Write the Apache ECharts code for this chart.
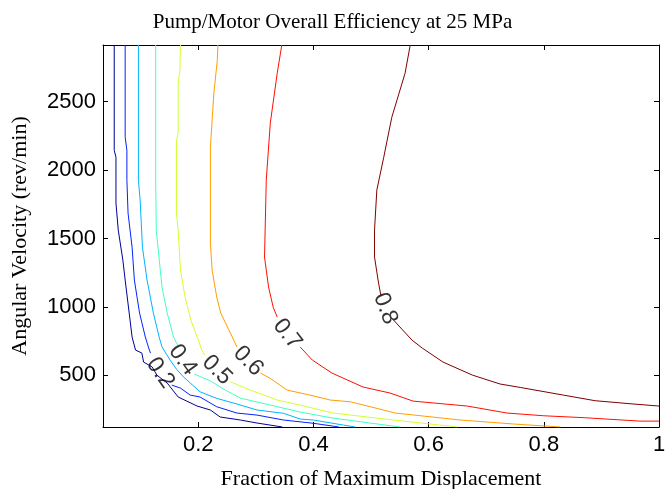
<!DOCTYPE html>
<html>
<head>
<meta charset="utf-8">
<script src="https://cdn.jsdelivr.net/npm/echarts@6/dist/echarts.min.js"></script>
<style>
  html, body { margin: 0; padding: 0; background: #fff; }
  #chart { width: 665px; height: 489px; }
</style>
</head>
<body>
<div id="chart"></div>
<script>
// axis ranges and ticks
const xMin = 0.0345, xMax = 1;
const yMin = 123, yMax = 2913;
const xTicks = [0.2, 0.4, 0.6, 0.8, 1];
const yTicks = [500, 1000, 1500, 2000, 2500];

// contour levels, each line split where matlab put its label
const levels = ['0.1', '0.2', '0.3', '0.4', '0.5', '0.6', '0.7', '0.8'];

const c01 = [
  [[0.054, 2913], [0.054, 2144], [0.057, 2093], [0.057, 1758], [0.061, 1561], [0.069, 1342], [0.073, 1196],
   [0.080, 955], [0.085, 780], [0.091, 685], [0.102, 663], [0.105, 597], [0.120, 561], [0.128, 502],
   [0.146, 444], [0.165, 342], [0.198, 276], [0.221, 247], [0.238, 196], [0.273, 174], [0.302, 152], [0.346, 123]]
];
const c02 = [
  [[0.073, 2913], [0.073, 2240], [0.076, 2144], [0.076, 1925], [0.078, 1685], [0.085, 1436], [0.089, 1196],
   [0.098, 955], [0.108, 780], [0.115, 685], [0.117, 663]],
  [[0.154, 429], [0.169, 407], [0.186, 356], [0.203, 342], [0.232, 271], [0.267, 225], [0.302, 210],
   [0.348, 174], [0.400, 150], [0.441, 125], [0.444, 123]]
];
const c03 = [
  [[0.096, 2913], [0.096, 1925], [0.099, 1780], [0.103, 1436], [0.111, 1196], [0.122, 955], [0.132, 780],
   [0.137, 707], [0.151, 612], [0.162, 546], [0.174, 490], [0.203, 380], [0.232, 332], [0.267, 291],
   [0.302, 247], [0.348, 223], [0.377, 181], [0.400, 174], [0.452, 137], [0.473, 123]]
];
const c04 = [
  [[0.126, 2913], [0.126, 1925], [0.127, 1561], [0.131, 1393], [0.137, 1145], [0.146, 955], [0.157, 780],
   [0.164, 722]],
  [[0.193, 510], [0.221, 459], [0.247, 393], [0.273, 334], [0.325, 283], [0.377, 232], [0.434, 188],
   [0.498, 152], [0.551, 123]]
];
const c05 = [
  [[0.169, 2913], [0.168, 2728], [0.165, 2634], [0.165, 2269], [0.162, 2217], [0.162, 1685], [0.165, 1561],
   [0.169, 1269], [0.177, 1072], [0.187, 904], [0.200, 758], [0.206, 685], [0.211, 648]],
  [[0.256, 453], [0.290, 393], [0.337, 320], [0.377, 283], [0.434, 225], [0.539, 174], [0.650, 123]]
];
const c06 = [
  [[0.234, 2913], [0.233, 2801], [0.227, 2561], [0.221, 2166], [0.221, 1466], [0.224, 1269], [0.232, 1072],
   [0.239, 955], [0.259, 780], [0.267, 707]],
  [[0.308, 517], [0.325, 478], [0.354, 393], [0.394, 356], [0.429, 320], [0.464, 307], [0.499, 271],
   [0.542, 225], [0.655, 174], [0.747, 145], [0.829, 123]]
];
const c07 = [
  [[0.345, 2913], [0.337, 2706], [0.325, 2342], [0.318, 1925], [0.315, 1364], [0.322, 1145], [0.330, 999],
   [0.337, 926]],
  [[0.377, 707], [0.398, 612], [0.432, 517], [0.486, 415], [0.533, 371], [0.573, 312], [0.667, 276],
   [0.724, 234], [0.736, 225], [0.800, 205], [0.870, 191], [0.967, 166], [1.0, 166]]
];
const c08 = [
  [[0.568, 2913], [0.559, 2706], [0.536, 2385], [0.522, 2093], [0.510, 1853], [0.506, 1561], [0.506, 1364],
   [0.513, 1174], [0.517, 1086]],
  [[0.539, 904], [0.571, 758], [0.589, 699], [0.625, 597], [0.676, 502], [0.724, 437], [0.759, 412],
   [0.834, 356], [0.889, 315], [0.955, 291], [1.0, 276]]
];
const contours = [c01, c02, c03, c04, c05, c06, c07, c08];

// inline contour labels (clabel)
const labelText = ['0.2', '0.4', '0.5', '0.6', '0.7', '0.8'];
const labelAt = [[0.134, 517], [0.1731, 612], [0.2325, 539], [0.2868, 604], [0.3545, 801], [0.5247, 988]];
const labelAngle = [-55, -54, -45, -46, -52, -69];

// jet colours for the 8 levels
const jet = ['#000094', '#0024ff', '#00b3ff', '#42ffbd', '#d1ff2e', '#ff9e00', '#ff0f00', '#800000'];

const sans = 'Liberation Sans';
const serif = 'Liberation Serif';

const series = [];
contours.forEach((segs, i) => {
  segs.forEach(seg => {
    series.push({
      name: levels[i],
      type: 'line',
      data: seg,
      symbol: 'none',
      silent: true,
      lineStyle: { width: 1, color: jet[i] },
      itemStyle: { color: jet[i] },
      z: 2,
    });
  });
});
series.push({
  type: 'scatter',
  symbolSize: 1,
  silent: true,
  itemStyle: { color: 'rgba(0,0,0,0)' },
  z: 5,
  data: labelAt.map((p, i) => ({
    value: p,
    label: {
      show: true,
      formatter: labelText[i],
      position: 'inside',
      rotate: labelAngle[i],
      align: 'center',
      verticalAlign: 'middle',
      fontFamily: sans,
      fontSize: 23,
      color: '#000',
    },
  })),
});

const frame = { show: true, onZero: false, lineStyle: { color: '#000', width: 1 } };
const tick = { show: true, inside: true, length: 5, lineStyle: { color: '#000', width: 1 } };

const chart = echarts.init(document.getElementById('chart'));
chart.setOption({
  animation: false,
  backgroundColor: '#fff',
  title: {
    text: 'Pump/Motor Overall Efficiency at 25 MPa',
    left: 'center',
    top: 7,
    textStyle: { fontFamily: serif, fontSize: 21, fontWeight: 'normal', color: '#000' },
  },
  grid: { left: 103, right: 6, top: 45, bottom: 62, outerBoundsMode: 'none', containLabel: false },
  xAxis: [
    {
      type: 'value', min: xMin, max: xMax, position: 'bottom',
      axisLine: frame,
      axisTick: { ...tick, customValues: xTicks },
      axisLabel: {
        customValues: xTicks, formatter: v => String(v),
        fontFamily: sans, fontSize: 22, color: '#000', margin: 7,
      },
      splitLine: { show: false },
      name: 'Fraction of Maximum Displacement',
      nameLocation: 'middle',
      nameGap: 41,
      nameTextStyle: { fontFamily: serif, fontSize: 22, color: '#000' },
    },
    {
      type: 'value', min: xMin, max: xMax, position: 'top',
      axisLine: frame,
      axisTick: { ...tick, customValues: xTicks },
      axisLabel: { show: false },
      splitLine: { show: false },
    },
  ],
  yAxis: [
    {
      type: 'value', min: yMin, max: yMax, position: 'left',
      axisLine: frame,
      axisTick: { ...tick, customValues: yTicks },
      axisLabel: {
        customValues: yTicks, formatter: v => String(v),
        fontFamily: sans, fontSize: 22, color: '#000', margin: 7,
      },
      splitLine: { show: false },
      name: 'Angular Velocity (rev/min)',
      nameLocation: 'middle',
      nameGap: 72,
      nameTextStyle: { fontFamily: serif, fontSize: 22, color: '#000' },
    },
    {
      type: 'value', min: yMin, max: yMax, position: 'right',
      axisLine: frame,
      axisTick: { ...tick, customValues: yTicks },
      axisLabel: { show: false },
      splitLine: { show: false },
    },
  ],
  series,
});
</script>
</body>
</html>
